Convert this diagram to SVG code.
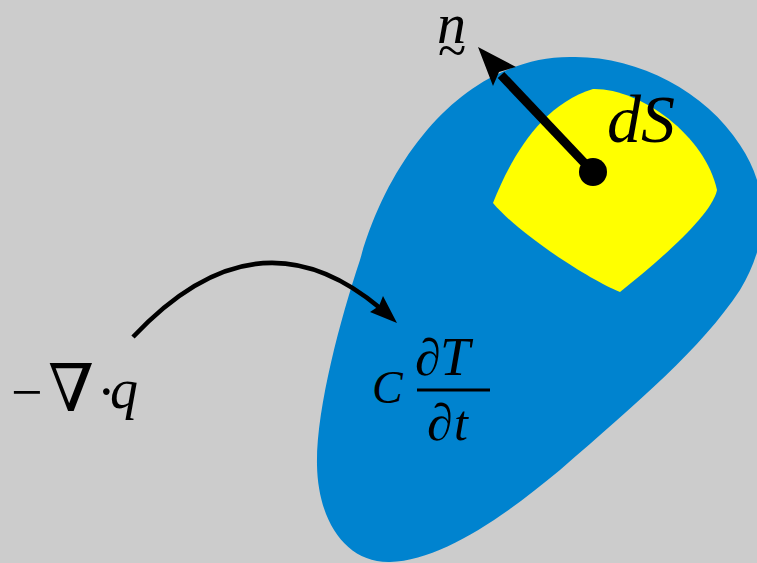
<svg xmlns="http://www.w3.org/2000/svg" width="757" height="563" viewBox="0 0 757 563">
<style>
.m{font-family:"Liberation Serif","DejaVu Serif",serif;fill:#000}
.i{font-style:italic}
.ar{fill:#000;stroke:none}
</style>
<rect width="757" height="563" fill="#cccccc"/>
<g id="volume">
<path fill="#0083cf" d="M570,57 C635,55 705,90 740,145 C770,190 770,240 740,290 C700,350 640,400 560,470 C500,520 440,560 390,562 C345,563 318,520 317,465 C316,410 340,320 360,260 C385,170 440,100 500,73 C525,62 545,57 570,57 Z"/>
</g>
<g id="surface-element">
<path fill="#ffff00" d="M493,203 C510,160 540,105 593,89 C640,88 705,135 717,190 C712,215 660,260 620,292 C590,280 520,235 493,203 Z"/>
</g>
<g id="normal-vector">
<line x1="593" y1="172" x2="501" y2="75" stroke="#000" stroke-width="9"/>
<polygon class="ar" points="478,47 516,67 499,72 493,86"/>
<circle cx="593" cy="172" r="14" fill="#000"/>
</g>
<g id="connectors">
<path d="M133,337 Q257,205 380,308" fill="none" stroke="#000" stroke-width="4.5"/>
<polygon class="ar" points="397,323 370,312 379,306 383,296"/>
</g>
<g id="label-n">
<text class="m" font-size="58"><tspan class="i" x="437" y="43">n</tspan><tspan x="438" y="68" font-size="52">~</tspan></text>
</g>
<g id="label-dS">
<text class="m i" x="607" y="142" font-size="68">dS</text>
</g>
<g id="label-div">
<text class="m" font-size="56"><tspan x="11" y="411">−</tspan><tspan x="48" y="411" font-size="66">∇</tspan><tspan x="97" y="411">·</tspan><tspan class="i" x="110" y="408">q</tspan></text>
</g>
<g id="label-rate">
<text class="m" font-size="46"><tspan class="i" x="372" y="403">C</tspan><tspan x="415" y="375" font-size="52">∂</tspan><tspan class="i" x="440" y="375" font-size="54">T</tspan><tspan x="427" y="440" font-size="52">∂</tspan><tspan class="i" x="454" y="440" font-size="50">t</tspan></text>
<rect x="417" y="388.5" width="73" height="3" fill="#000"/>
</g>
</svg>
